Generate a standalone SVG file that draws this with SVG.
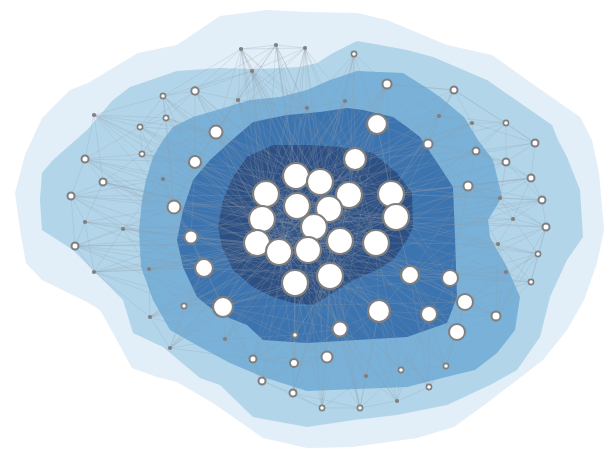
<svg xmlns="http://www.w3.org/2000/svg" width="614" height="460" viewBox="0 0 614 460">
<style>
.e{fill:none;stroke:#909ca8;stroke-opacity:.4;stroke-width:.6}
.b{fill:#fff;stroke:#7f7f7f;stroke-width:2.2}
.s{fill:#fff;stroke:#7f7f7f;stroke-width:2}
.t{fill:#fff;stroke:#7f7f7f;stroke-width:1.6}
.d{fill:#7f7f7f}
</style>
<rect width="614" height="460" fill="#fff"/>
<g id="contours">
<polygon fill="#e2eef8" points="220,16 267,10 307,12 357,13 387,20 447,45 492,55 537,87 580,117 592,140 599,173 604,230 597,263 584,300 567,330 543,360 487,403 454,427 417,438 352,447 307,448 263,438 213,403 177,382 157,377 132,368 113,333 100,310 87,302 42,280 26,263 20,230 15,193 25,155 42,118 70,90 88,83 138,53 177,45"/>
<polygon fill="#b3d5e9" points="130,87 177,71 220,68 260,69 300,67 317,63 333,53 357,41 380,45 407,50 433,57 487,80 552,125 558,140 567,157 580,190 583,237 567,260 550,297 540,337 517,370 490,385 447,405 397,415 354,420 307,427 253,417 220,385 200,378 163,347 133,333 123,300 100,277 73,250 42,230 40,200 42,173 53,160 87,130 113,100"/>
<polygon fill="#79b1d8" points="153,157 163,140 173,127 193,117 217,110 250,100 280,97 307,90 330,80 357,71 403,73 430,90 440,97 464,117 478,140 493,160 502,197 488,220 490,237 497,250 507,267 520,297 515,330 497,353 475,370 454,375 407,387 307,391 263,377 230,363 200,347 170,330 153,300 141,267 139,230 142,200 146,180"/>
<polygon fill="#3c74b0" points="253,122 287,115 320,112 347,108 363,110 393,117 407,127 420,137 440,167 453,187 455,237 457,297 447,323 407,337 357,340 307,343 263,340 247,325 217,313 197,297 183,267 177,240 183,210 193,180 210,160 232,140"/>
<polygon fill="#2d5084" points="247,157 273,145 310,145 340,147 373,153 397,173 412,193 413,227 407,240 393,260 377,270 353,280 333,293 313,305 293,303 273,297 253,287 233,270 222,247 218,227 223,200 233,177"/>
</g>
<g id="connectors">
<path class="e" d="M241 49L276 45M241 49L305 48M241 49L252 71M241 49L195 91M241 49L216 132M241 49L296 176M241 49L266 194M241 49L320 182M241 49L238 100M241 49L307 108M241 49L163 96M241 49L355 159M241 49L262 219"/>
<path class="e" d="M276 45L305 48M276 45L252 71M276 45L238 100M276 45L296 176M276 45L320 182M276 45L266 194M276 45L307 108M276 45L216 132M276 45L195 91M276 45L349 195M276 45L297 206"/>
<path class="e" d="M305 48L252 71M305 48L307 108M305 48L345 101M305 48L296 176M305 48L320 182M305 48L355 159M305 48L266 194M305 48L238 100M305 48L216 132M305 48L329 209"/>
<path class="e" d="M252 71L195 91M252 71L163 96M252 71L216 132M252 71L296 176M252 71L266 194M252 71L238 100M252 71L307 108M252 71L320 182M252 71L262 219M252 71L297 206"/>
<path class="e" d="M354 54L387 84M354 54L345 101M354 54L377 124M354 54L355 159M354 54L320 182M354 54L307 108M354 54L296 176M354 54L349 195"/>
<path class="e" d="M387 84L345 101M387 84L377 124M387 84L428 144M387 84L439 116M387 84L454 90M387 84L355 159M387 84L391 194M387 84L349 195M387 84L320 182M387 84L296 176"/>
<path class="e" d="M345 101L307 108M345 101L377 124M345 101L355 159M345 101L320 182M345 101L296 176M345 101L329 209M345 101L266 194"/>
<path class="e" d="M307 108L296 176M307 108L320 182M307 108L266 194M307 108L216 132M307 108L238 100M307 108L297 206M307 108L355 159"/>
<path class="e" d="M238 100L216 132M238 100L195 91M238 100L296 176M238 100L266 194M238 100L262 219M238 100L297 206M238 100L195 162"/>
<path class="e" d="M195 91L163 96M195 91L166 118M195 91L216 132M195 91L140 127M195 91L195 162M195 91L266 194M195 91L296 176M195 91L262 219"/>
<path class="e" d="M163 96L166 118M163 96L140 127M163 96L94 115M163 96L216 132M163 96L195 162M163 96L266 194M163 96L174 207"/>
<path class="e" d="M166 118L140 127M166 118L142 154M166 118L216 132M166 118L195 162M166 118L266 194M166 118L262 219M166 118L296 176M166 118L174 207M166 118L94 115"/>
<path class="e" d="M140 127L94 115M140 127L142 154M140 127L85 159M140 127L195 162M140 127L216 132M140 127L174 207M140 127L266 194"/>
<path class="e" d="M94 115L142 154M94 115L85 159M94 115L103 182M94 115L195 162M94 115L174 207M94 115L216 132"/>
<path class="e" d="M142 154L85 159M142 154L103 182M142 154L195 162M142 154L174 207M142 154L163 179M142 154L266 194M142 154L262 219M142 154L216 132"/>
<path class="e" d="M85 159L103 182M85 159L71 196M85 159L174 207M85 159L195 162M85 159L163 179M85 159L191 237M85 159L262 219"/>
<path class="e" d="M103 182L71 196M103 182L85 222M103 182L174 207M103 182L163 179M103 182L191 237M103 182L257 243M103 182L262 219"/>
<path class="e" d="M71 196L85 222M71 196L75 246M71 196L123 229M71 196L174 207M71 196L191 237M71 196L163 179M71 196L204 268"/>
<path class="e" d="M85 222L75 246M85 222L123 229M85 222L174 207M85 222L191 237M85 222L204 268M85 222L94 272"/>
<path class="e" d="M123 229L75 246M123 229L94 272M123 229L174 207M123 229L191 237M123 229L204 268M123 229L149 269M123 229L257 243"/>
<path class="e" d="M163 179L174 207M163 179L195 162M163 179L266 194M163 179L262 219M163 179L191 237M163 179L123 229"/>
<path class="e" d="M75 246L94 272M75 246L149 269M75 246L191 237M75 246L204 268M75 246L174 207M75 246L257 243M75 246L223 307"/>
<path class="e" d="M94 272L149 269M94 272L184 306M94 272L150 317M94 272L204 268M94 272L191 237M94 272L223 307M94 272L257 243"/>
<path class="e" d="M149 269L184 306M149 269L150 317M149 269L204 268M149 269L223 307M149 269L191 237M149 269L257 243M149 269L279 252"/>
<path class="e" d="M150 317L184 306M150 317L170 348M150 317L223 307M150 317L204 268M150 317L257 243M150 317L225 339"/>
<path class="e" d="M170 348L184 306M170 348L225 339M170 348L223 307M170 348L204 268M170 348L257 243M170 348L279 252M170 348L253 359"/>
<path class="e" d="M184 306L223 307M184 306L204 268M184 306L225 339M184 306L257 243M184 306L279 252M184 306L295 283"/>
<path class="e" d="M225 339L253 359M225 339L223 307M225 339L295 335M225 339L295 283M225 339L279 252M225 339L262 381"/>
<path class="e" d="M253 359L262 381M253 359L294 363M253 359L295 335M253 359L223 307M253 359L295 283M253 359L279 252M253 359L327 357"/>
<path class="e" d="M262 381L293 393M262 381L294 363M262 381L322 408M262 381L327 357M262 381L295 283M262 381L223 307M262 381L340 329"/>
<path class="e" d="M293 393L322 408M293 393L294 363M293 393L327 357M293 393L340 329M293 393L295 283M293 393L330 276M293 393L360 408"/>
<path class="e" d="M294 363L327 357M294 363L295 335M294 363L340 329M294 363L295 283M294 363L308 250M294 363L279 252"/>
<path class="e" d="M295 335L327 357M295 335L340 329M295 335L295 283M295 335L308 250M295 335L330 276M295 335L223 307"/>
<path class="e" d="M322 408L360 408M322 408L327 357M322 408L366 376M322 408L340 329M322 408L330 276M322 408L295 283"/>
<path class="e" d="M360 408L397 401M360 408L366 376M360 408L401 370M360 408L327 357M360 408L340 329M360 408L379 311M360 408L330 276"/>
<path class="e" d="M366 376L401 370M366 376L327 357M366 376L340 329M366 376L379 311M366 376L330 276M366 376L295 283"/>
<path class="e" d="M397 401L429 387M397 401L401 370M397 401L366 376M397 401L379 311M397 401L340 329M397 401L429 314"/>
<path class="e" d="M401 370L429 387M401 370L446 366M401 370L379 311M401 370L429 314M401 370L340 329M401 370L376 243M401 370L330 276"/>
<path class="e" d="M429 387L446 366M429 387L457 332M429 387L429 314M429 387L379 311M429 387L410 275"/>
<path class="e" d="M446 366L457 332M446 366L429 314M446 366L465 302M446 366L379 311M446 366L410 275M446 366L496 316"/>
<path class="e" d="M496 316L465 302M496 316L457 332M496 316L450 278M496 316L531 282M496 316L538 254M496 316L506 272M496 316L429 314M496 316L410 275M496 316L498 244M496 316L546 227"/>
<path class="e" d="M531 282L538 254M531 282L506 272M531 282L465 302M531 282L450 278M531 282L498 244M531 282L546 227"/>
<path class="e" d="M538 254L546 227M538 254L506 272M538 254L498 244M538 254L450 278M538 254L465 302M538 254L513 219"/>
<path class="e" d="M506 272L498 244M506 272L450 278M506 272L465 302M506 272L410 275M506 272L429 314"/>
<path class="e" d="M498 244L546 227M498 244L513 219M498 244L450 278M498 244L410 275M498 244L396 217M498 244L468 186M498 244L376 243"/>
<path class="e" d="M546 227L542 200M546 227L513 219M546 227L500 198M546 227L468 186M546 227L450 278M546 227L396 217"/>
<path class="e" d="M513 219L542 200M513 219L500 198M513 219L531 178M513 219L468 186M513 219L396 217M513 219L410 275"/>
<path class="e" d="M542 200L531 178M542 200L500 198M542 200L506 162M542 200L468 186M542 200L396 217M542 200L391 194"/>
<path class="e" d="M500 198L531 178M500 198L468 186M500 198L506 162M500 198L396 217M500 198L391 194M500 198L410 275"/>
<path class="e" d="M531 178L506 162M531 178L535 143M531 178L476 151M531 178L468 186M531 178L391 194"/>
<path class="e" d="M506 162L535 143M506 162L476 151M506 162L506 123M506 162L468 186M506 162L428 144M506 162L391 194"/>
<path class="e" d="M535 143L506 123M535 143L476 151M535 143L472 123M535 143L454 90"/>
<path class="e" d="M506 123L472 123M506 123L476 151M506 123L454 90M506 123L439 116M506 123L428 144"/>
<path class="e" d="M472 123L454 90M472 123L439 116M472 123L476 151M472 123L428 144M472 123L391 194M472 123L355 159"/>
<path class="e" d="M476 151L428 144M476 151L468 186M476 151L391 194M476 151L396 217M476 151L355 159"/>
<path class="e" d="M454 90L439 116M454 90L428 144M454 90L387 84M454 90L377 124M454 90L391 194"/>
<path class="e" d="M439 116L428 144M439 116L377 124M439 116L391 194M439 116L355 159M439 116L349 195"/>
<path class="e" d="M428 144L377 124M428 144L391 194M428 144L396 217M428 144L355 159M428 144L349 195M428 144L468 186"/>
<path class="e" d="M468 186L391 194M468 186L396 217M468 186L376 243M468 186L410 275M468 186L450 278"/>
<path class="e" d="M355 159L296 176M355 159L320 182M355 159L349 195M355 159L391 194M355 159L297 206M355 159L329 209M355 159L396 217M355 159L314 227M355 159L340 241M355 159L376 243M355 159L266 194M355 159L377 124"/>
<path class="e" d="M377 124L296 176M377 124L320 182M377 124L349 195M377 124L391 194M377 124L329 209M377 124L396 217M377 124L340 241"/>
<path class="e" d="M216 132L296 176M216 132L266 194M216 132L297 206M216 132L262 219M216 132L257 243M216 132L195 162M216 132L174 207M216 132L320 182"/>
<path class="e" d="M195 162L266 194M195 162L262 219M195 162L257 243M195 162L297 206M195 162L296 176M195 162L174 207M195 162L191 237M195 162L279 252"/>
<path class="e" d="M174 207L266 194M174 207L262 219M174 207L257 243M174 207L279 252M174 207L191 237M174 207L204 268M174 207L297 206M174 207L308 250"/>
<path class="e" d="M191 237L262 219M191 237L257 243M191 237L279 252M191 237L204 268M191 237L223 307M191 237L266 194M191 237L308 250M191 237L295 283"/>
<path class="e" d="M204 268L257 243M204 268L279 252M204 268L295 283M204 268L223 307M204 268L262 219M204 268L308 250M204 268L330 276"/>
<path class="e" d="M223 307L257 243M223 307L279 252M223 307L295 283M223 307L330 276M223 307L308 250M223 307L340 329M223 307L327 357"/>
<path class="e" d="M340 329L330 276M340 329L295 283M340 329L308 250M340 329L340 241M340 329L376 243M340 329L379 311M340 329L327 357M340 329L279 252"/>
<path class="e" d="M327 357L330 276M327 357L295 283M327 357L379 311M327 357L308 250"/>
<path class="e" d="M379 311L330 276M379 311L376 243M379 311L340 241M379 311L410 275M379 311L429 314M379 311L308 250M379 311L295 283M379 311L314 227"/>
<path class="e" d="M410 275L376 243M410 275L396 217M410 275L340 241M410 275L330 276M410 275L450 278M410 275L429 314M410 275L391 194"/>
<path class="e" d="M450 278L376 243M450 278L396 217M450 278L465 302M450 278L429 314M450 278L391 194M450 278L340 241"/>
<path class="e" d="M465 302L410 275M465 302L429 314M465 302L457 332M465 302L376 243M465 302L396 217"/>
<path class="e" d="M429 314L376 243M429 314L457 332M429 314L330 276M429 314L340 241"/>
<path class="e" d="M457 332L379 311M457 332L410 275M457 332L450 278M457 332L376 243"/>
<path class="e" d="M296 176L320 182M296 176L266 194M296 176L297 206M296 176L349 195M296 176L329 209M296 176L262 219M296 176L314 227M296 176L279 252M296 176L330 276"/>
<path class="e" d="M320 182L349 195M320 182L297 206M320 182L329 209M320 182L391 194M320 182L314 227M320 182L340 241M320 182L376 243M320 182L257 243"/>
<path class="e" d="M266 194L297 206M266 194L262 219M266 194L257 243M266 194L314 227M266 194L279 252M266 194L396 217M266 194L295 283"/>
<path class="e" d="M349 195L391 194M349 195L329 209M349 195L396 217M349 195L340 241M349 195L376 243M349 195L308 250M349 195L262 219"/>
<path class="e" d="M391 194L396 217M391 194L376 243M391 194L340 241M391 194L329 209M391 194L330 276M391 194L257 243"/>
<path class="e" d="M297 206L329 209M297 206L262 219M297 206L314 227M297 206L279 252M297 206L308 250M297 206L376 243"/>
<path class="e" d="M329 209L314 227M329 209L340 241M329 209L396 217M329 209L330 276M329 209L257 243"/>
<path class="e" d="M262 219L257 243M262 219L279 252M262 219L314 227M262 219L295 283M262 219L396 217"/>
<path class="e" d="M396 217L376 243M396 217L340 241M396 217L330 276M396 217L279 252"/>
<path class="e" d="M314 227L308 250M314 227L340 241M314 227L279 252M314 227L295 283M257 243L279 252M257 243L295 283M257 243L308 250M257 243L376 243"/>
<path class="e" d="M340 241L376 243M340 241L308 250M340 241L330 276M376 243L330 276M376 243L295 283M376 243L308 250M279 252L308 250M279 252L295 283M308 250L330 276M308 250L295 283M330 276L295 283"/>
<path class="e" d="M241 49L295 283M94 115L340 241M71 196L396 217M75 246L376 243M170 348L391 194M322 408L320 182M531 178L257 243M546 227L262 219M496 316L266 194M454 90L279 252"/>
<path class="e" d="M163 96L330 276M506 123L295 283M360 408L296 176M150 317L349 195M103 182L376 243M538 254L297 206M429 387L266 194M262 381L391 194M387 84L257 243M252 71L340 241"/>
<path class="e" d="M85 159L340 329M140 127L379 311M305 48L279 252M345 101L223 307M472 123L204 268M542 200L223 307M506 272L191 237M446 366L216 132M293 393L355 159M225 339L377 124"/>
<path class="e" d="M123 229L410 275M149 269L396 217M184 306L450 278M195 91L379 311M238 100L340 329M468 186L174 207M428 144L191 237M401 370L195 162M397 401L262 219M253 359L428 144"/>
<path class="e" d="M276 45L308 250M276 45L330 276M305 48L257 243M305 48L376 243M252 71L295 283M252 71L396 217M241 49L340 241M238 100L376 243M307 108L257 243M307 108L330 276M345 101L279 252M345 101L257 243M354 54L308 250M387 84L279 252M387 84L314 227"/>
<path class="e" d="M535 143L266 194M531 178L297 206M506 162L262 219M542 200L279 252M513 219L257 243M500 198L296 176M498 244L266 194M538 254L262 219M531 282L279 252M506 272L297 206M496 316L257 243M476 151L262 219M472 123L266 194M439 116L297 206M428 144L257 243"/>
<path class="e" d="M322 408L296 176M360 408L320 182M293 393L349 195M262 381L296 176M253 359L320 182M294 363L349 195M366 376L266 194M397 401L296 176M401 370L262 219M429 387L297 206M446 366L320 182M225 339L349 195M170 348L320 182M184 306L391 194M150 317L396 217"/>
<path class="e" d="M71 196L349 195M85 159L329 209M103 182L340 241M75 246L410 275M85 222L376 243M123 229L396 217M94 272L340 241M149 269L376 243M142 154L349 195M140 127L329 209M166 118L391 194M94 115L308 250M163 179L340 241M163 96L314 227M195 91L376 243"/>
<path class="e" d="M216 132L379 311M195 162L410 275M174 207L450 278M191 237L396 217M204 268L391 194M223 307L355 159M340 329L216 132M379 311L195 162M410 275L174 207M450 278L204 268M465 302L223 307M429 314L191 237M457 332L266 194M355 159L223 307M377 124L340 329"/>
</g>
<g id="nodes">
<g id="n1"><circle class="b" cx="296" cy="176" r="13"/></g>
<g id="n2"><circle class="b" cx="320" cy="182" r="13"/></g>
<g id="n3"><circle class="b" cx="266" cy="194" r="13"/></g>
<g id="n4"><circle class="b" cx="349" cy="195" r="13"/></g>
<g id="n5"><circle class="b" cx="391" cy="194" r="13"/></g>
<g id="n6"><circle class="b" cx="297" cy="206" r="13"/></g>
<g id="n7"><circle class="b" cx="329" cy="209" r="13"/></g>
<g id="n8"><circle class="b" cx="262" cy="219" r="13"/></g>
<g id="n9"><circle class="b" cx="396" cy="217" r="13"/></g>
<g id="n10"><circle class="b" cx="314" cy="227" r="13"/></g>
<g id="n11"><circle class="b" cx="257" cy="243" r="13"/></g>
<g id="n12"><circle class="b" cx="340" cy="241" r="13"/></g>
<g id="n13"><circle class="b" cx="376" cy="243" r="13"/></g>
<g id="n14"><circle class="b" cx="279" cy="252" r="13"/></g>
<g id="n15"><circle class="b" cx="308" cy="250" r="13"/></g>
<g id="n16"><circle class="b" cx="330" cy="276" r="13"/></g>
<g id="n17"><circle class="b" cx="295" cy="283" r="13"/></g>
<g id="n18"><circle class="b" cx="355" cy="159" r="11"/></g>
<g id="n19"><circle class="b" cx="377" cy="124" r="10"/></g>
<g id="n20"><circle class="b" cx="379" cy="311" r="11"/></g>
<g id="n21"><circle class="b" cx="223" cy="307" r="10"/></g>
<g id="n22"><circle class="b" cx="204" cy="268" r="9"/></g>
<g id="n23"><circle class="b" cx="410" cy="275" r="9"/></g>
<g id="n24"><circle class="s" cx="450" cy="278" r="8"/></g>
<g id="n25"><circle class="s" cx="465" cy="302" r="8"/></g>
<g id="n26"><circle class="s" cx="429" cy="314" r="8"/></g>
<g id="n27"><circle class="s" cx="457" cy="332" r="8"/></g>
<g id="n28"><circle class="s" cx="340" cy="329" r="7.5"/></g>
<g id="n29"><circle class="s" cx="216" cy="132" r="6.5"/></g>
<g id="n30"><circle class="s" cx="195" cy="162" r="6"/></g>
<g id="n31"><circle class="s" cx="174" cy="207" r="6.5"/></g>
<g id="n32"><circle class="s" cx="191" cy="237" r="6.5"/></g>
<g id="n33"><circle class="s" cx="327" cy="357" r="5.5"/></g>
<g id="n34"><circle class="s" cx="387" cy="84" r="4.5"/></g>
<g id="n35"><circle class="s" cx="428" cy="144" r="4.5"/></g>
<g id="n36"><circle class="s" cx="468" cy="186" r="4.5"/></g>
<g id="n37"><circle class="s" cx="294" cy="363" r="4"/></g>
<g id="n38"><circle class="s" cx="496" cy="316" r="4.5"/></g>
<g id="n39"><circle class="s" cx="195" cy="91" r="3.7"/></g>
<g id="n40"><circle class="s" cx="454" cy="90" r="3.5"/></g>
<g id="n41"><circle class="s" cx="535" cy="143" r="3.5"/></g>
<g id="n42"><circle class="s" cx="476" cy="151" r="3.5"/></g>
<g id="n43"><circle class="s" cx="506" cy="162" r="3.5"/></g>
<g id="n44"><circle class="s" cx="531" cy="178" r="3.5"/></g>
<g id="n45"><circle class="s" cx="542" cy="200" r="3.5"/></g>
<g id="n46"><circle class="s" cx="546" cy="227" r="3.5"/></g>
<g id="n47"><circle class="s" cx="85" cy="159" r="3.5"/></g>
<g id="n48"><circle class="s" cx="103" cy="182" r="3.5"/></g>
<g id="n49"><circle class="s" cx="71" cy="196" r="3.5"/></g>
<g id="n50"><circle class="s" cx="75" cy="246" r="3.5"/></g>
<g id="n51"><circle class="s" cx="253" cy="359" r="3.5"/></g>
<g id="n52"><circle class="s" cx="262" cy="381" r="3.5"/></g>
<g id="n53"><circle class="s" cx="293" cy="393" r="3.5"/></g>
<g id="n54"><circle class="t" cx="354" cy="54" r="2.6"/></g>
<g id="n55"><circle class="t" cx="163" cy="96" r="2.6"/></g>
<g id="n56"><circle class="t" cx="166" cy="118" r="2.6"/></g>
<g id="n57"><circle class="t" cx="140" cy="127" r="2.6"/></g>
<g id="n58"><circle class="t" cx="142" cy="154" r="2.6"/></g>
<g id="n59"><circle class="t" cx="506" cy="123" r="2.6"/></g>
<g id="n60"><circle class="t" cx="538" cy="254" r="2.6"/></g>
<g id="n61"><circle class="t" cx="531" cy="282" r="2.6"/></g>
<g id="n62"><circle class="t" cx="184" cy="306" r="2.6"/></g>
<g id="n63"><circle class="t" cx="295" cy="335" r="2.6"/></g>
<g id="n64"><circle class="t" cx="401" cy="370" r="2.6"/></g>
<g id="n65"><circle class="t" cx="446" cy="366" r="2.6"/></g>
<g id="n66"><circle class="t" cx="429" cy="387" r="2.6"/></g>
<g id="n67"><circle class="t" cx="322" cy="408" r="2.6"/></g>
<g id="n68"><circle class="t" cx="360" cy="408" r="2.6"/></g>
<g id="n69"><circle class="d" cx="241" cy="49" r="2.1"/></g>
<g id="n70"><circle class="d" cx="276" cy="45" r="2.1"/></g>
<g id="n71"><circle class="d" cx="305" cy="48" r="2.1"/></g>
<g id="n72"><circle class="d" cx="252" cy="71" r="2.1"/></g>
<g id="n73"><circle class="d" cx="238" cy="100" r="2.1"/></g>
<g id="n74"><circle class="d" cx="307" cy="108" r="2.1"/></g>
<g id="n75"><circle class="d" cx="345" cy="101" r="2.1"/></g>
<g id="n76"><circle class="d" cx="94" cy="115" r="2.1"/></g>
<g id="n77"><circle class="d" cx="163" cy="179" r="2.1"/></g>
<g id="n78"><circle class="d" cx="85" cy="222" r="2.1"/></g>
<g id="n79"><circle class="d" cx="123" cy="229" r="2.1"/></g>
<g id="n80"><circle class="d" cx="439" cy="116" r="2.1"/></g>
<g id="n81"><circle class="d" cx="472" cy="123" r="2.1"/></g>
<g id="n82"><circle class="d" cx="500" cy="198" r="2.1"/></g>
<g id="n83"><circle class="d" cx="513" cy="219" r="2.1"/></g>
<g id="n84"><circle class="d" cx="94" cy="272" r="2.1"/></g>
<g id="n85"><circle class="d" cx="149" cy="269" r="2.1"/></g>
<g id="n86"><circle class="d" cx="150" cy="317" r="2.1"/></g>
<g id="n87"><circle class="d" cx="170" cy="348" r="2.1"/></g>
<g id="n88"><circle class="d" cx="225" cy="339" r="2.1"/></g>
<g id="n89"><circle class="d" cx="498" cy="244" r="2.1"/></g>
<g id="n90"><circle class="d" cx="506" cy="272" r="2.1"/></g>
<g id="n91"><circle class="d" cx="366" cy="376" r="2.1"/></g>
<g id="n92"><circle class="d" cx="397" cy="401" r="2.1"/></g>
</g>
</svg>
